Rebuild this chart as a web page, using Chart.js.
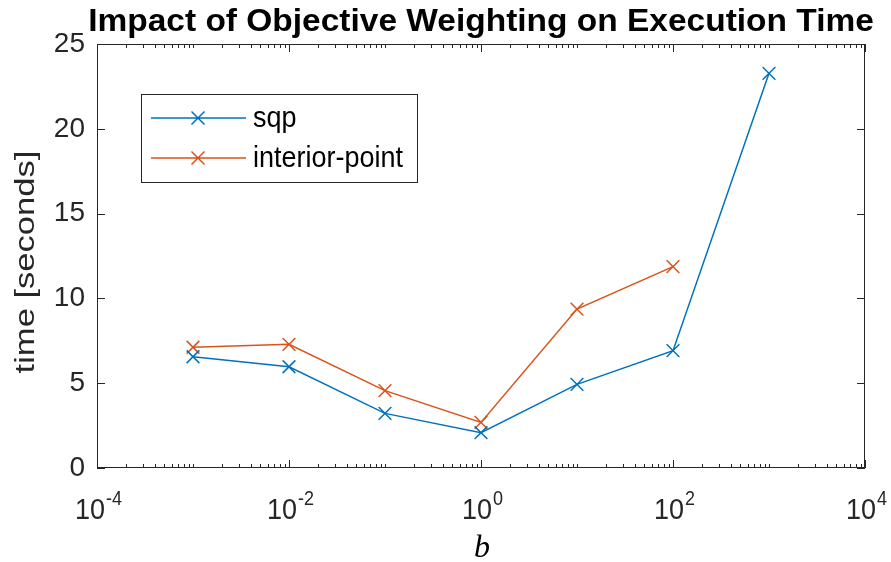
<!DOCTYPE html>
<html>
<head>
<meta charset="utf-8">
<script src="https://cdn.jsdelivr.net/npm/chart.js@4"></script>
<style>
  html, body { margin: 0; padding: 0; background: #fff; }
  #wrap { width: 891px; height: 562px; }
</style>
</head>
<body>
<div id="wrap"><canvas id="timeChart" width="891" height="562"></canvas></div>
<script>
// data
const bValues = [1e-3, 1e-2, 1e-1, 1, 10, 100, 1000];
const sqpTimes = [6.56, 5.97, 3.22, 2.08, 4.93, 6.92, 23.27];
const ipTimes = [7.12, 7.29, 4.56, 2.69, 9.37, 11.87];
const seriesNames = ['sqp', 'interior-point'];
const seriesColors = ['#0072BD', '#D95319'];
const xLabelExps = [-4, -2, 0, 2, 4];
const xDecades = [-4, -3, -2, -1, 0, 1, 2, 3];
const yTicks = [0, 5, 10, 15, 20, 25];
const titleText = 'Impact of Objective Weighting on Execution Time';
const xTitle = 'b';
const yTitle = 'time [seconds]';

const axisColor = '#262626';
const sansFont = '"Liberation Sans", Arial, Helvetica, sans-serif';

// text drawn stretched like the exported figure
function drawText(ctx, text, x, y, font, sx, sy, rot) {
    ctx.save();
    ctx.translate(x, y);
    if (rot) ctx.rotate(rot);
    ctx.scale(sx, sy);
    ctx.font = font;
    ctx.fillText(text, 0, 0);
    ctx.restore();
}

// MATLAB-ish box with inward ticks, superscript x labels, legend, titles
const matlabAxes = {
    id: 'matlabAxes',
    afterDraw(chart) {
        const ctx = chart.ctx;
        const a = chart.chartArea;
        const xs = chart.scales.x, ys = chart.scales.y;
        ctx.save();
        ctx.strokeStyle = axisColor;
        ctx.lineWidth = 1;
        ctx.strokeRect(a.left + 0.5, a.top + 0.5, a.right - a.left - 1, a.bottom - a.top - 1);

        ctx.beginPath();
        xDecades.concat([4]).forEach(function(k) {
            for (let m = 1; m <= 9; m++) {
                if (k === 4 && m > 1) break;
                const px = Math.round(xs.getPixelForValue(m * Math.pow(10, k))) + 0.5;
                const len = (m === 1 && k % 2 === 0) ? 8 : 4;
                ctx.moveTo(px, a.bottom); ctx.lineTo(px, a.bottom - len);
                ctx.moveTo(px, a.top); ctx.lineTo(px, a.top + len);
            }
        });
        yTicks.forEach(function(v) {
            const py = Math.round(ys.getPixelForValue(v)) + 0.5;
            ctx.moveTo(a.left, py); ctx.lineTo(a.left + 8, py);
            ctx.moveTo(a.right, py); ctx.lineTo(a.right - 8, py);
        });
        ctx.stroke();

        // x tick labels 10^k
        ctx.fillStyle = axisColor;
        ctx.textBaseline = 'alphabetic';
        ctx.textAlign = 'left';
        xLabelExps.forEach(function(k) {
            const px = xs.getPixelForValue(Math.pow(10, k));
            const base = '10', sup = String(k);
            ctx.font = '27px ' + sansFont;
            const wb = ctx.measureText(base).width;
            ctx.font = '18px ' + sansFont;
            const ws = ctx.measureText(sup).width;
            const x0 = px - (wb + ws) / 2 + 1;
            drawText(ctx, base, x0, 519, '27px ' + sansFont, 1, 1.1);
            drawText(ctx, sup, x0 + wb + 1, 505, '18px ' + sansFont, 1, 1.1);
        });

        // axis titles and chart title
        ctx.textAlign = 'center';
        ctx.fillStyle = '#000';
        drawText(ctx, xTitle, (a.left + a.right) / 2 + 1, 557,
            'italic 32px "Liberation Serif", "DejaVu Serif", serif', 1, 1);
        ctx.fillStyle = axisColor;
        drawText(ctx, yTitle, 34, 262, '27px ' + sansFont, 1.28, 1, -Math.PI / 2);
        ctx.fillStyle = '#000';
        drawText(ctx, titleText, (a.left + a.right) / 2, 31, 'bold 31px ' + sansFont, 1.08, 1);

        // legend
        const lx = 141, ly = 94, lw = 276, lh = 88;
        ctx.fillStyle = '#fff';
        ctx.fillRect(lx, ly, lw, lh);
        ctx.strokeStyle = axisColor;
        ctx.lineWidth = 1;
        ctx.strokeRect(lx + 0.5, ly + 0.5, lw, lh);
        chart.data.datasets.forEach(function(ds, i) {
            const y = ly + 24 + i * 40;
            ctx.strokeStyle = ds.borderColor;
            ctx.lineWidth = 1.5;
            ctx.beginPath();
            ctx.moveTo(151, y); ctx.lineTo(246, y);
            const r = 6.5;
            ctx.moveTo(198 - r, y - r); ctx.lineTo(198 + r, y + r);
            ctx.moveTo(198 - r, y + r); ctx.lineTo(198 + r, y - r);
            ctx.stroke();
            ctx.fillStyle = '#000';
            ctx.textAlign = 'left';
            ctx.textBaseline = 'middle';
            drawText(ctx, ds.label, 253, y + 1, '27px ' + sansFont, 1, 1.1);
        });
        ctx.restore();
    }
};

function makeSeries(values) {
    return values.map(function(v, i) { return { x: bValues[i], y: v }; });
}

const ctx = document.getElementById('timeChart').getContext('2d');
const timeChart = new Chart(ctx, {
    type: 'line',
    data: {
        datasets: [
            { label: seriesNames[0], data: makeSeries(sqpTimes) },
            { label: seriesNames[1], data: makeSeries(ipTimes) }
        ].map(function(ds, i) {
            return Object.assign(ds, {
                borderColor: seriesColors[i],
                backgroundColor: seriesColors[i],
                borderWidth: 1.5,
                pointStyle: 'crossRot',
                pointRadius: 9,
                pointBorderWidth: 1.5,
                tension: 0,
                fill: false
            });
        })
    },
    options: {
        responsive: false,
        animation: false,
        layout: { padding: { left: 0, right: 26, top: 44, bottom: 0 } },
        plugins: {
            legend: { display: false },
            tooltip: { enabled: false },
            title: { display: false }
        },
        scales: {
            x: {
                type: 'logarithmic',
                min: 1e-4,
                max: 1e4,
                grid: { display: false },
                border: { display: false },
                ticks: { display: false },
                afterFit: function(s) { s.height = 94; }
            },
            y: {
                min: 0,
                max: 25,
                grid: { display: false, drawTicks: false },
                border: { display: false },
                afterBuildTicks: function(s) { s.ticks = yTicks.map(function(v) { return { value: v }; }); },
                ticks: {
                    color: axisColor,
                    padding: 12,
                    font: { family: sansFont, size: 28 }
                },
                afterFit: function(s) { s.width = 97; }
            }
        }
    },
    plugins: [matlabAxes]
});
</script>
</body>
</html>
